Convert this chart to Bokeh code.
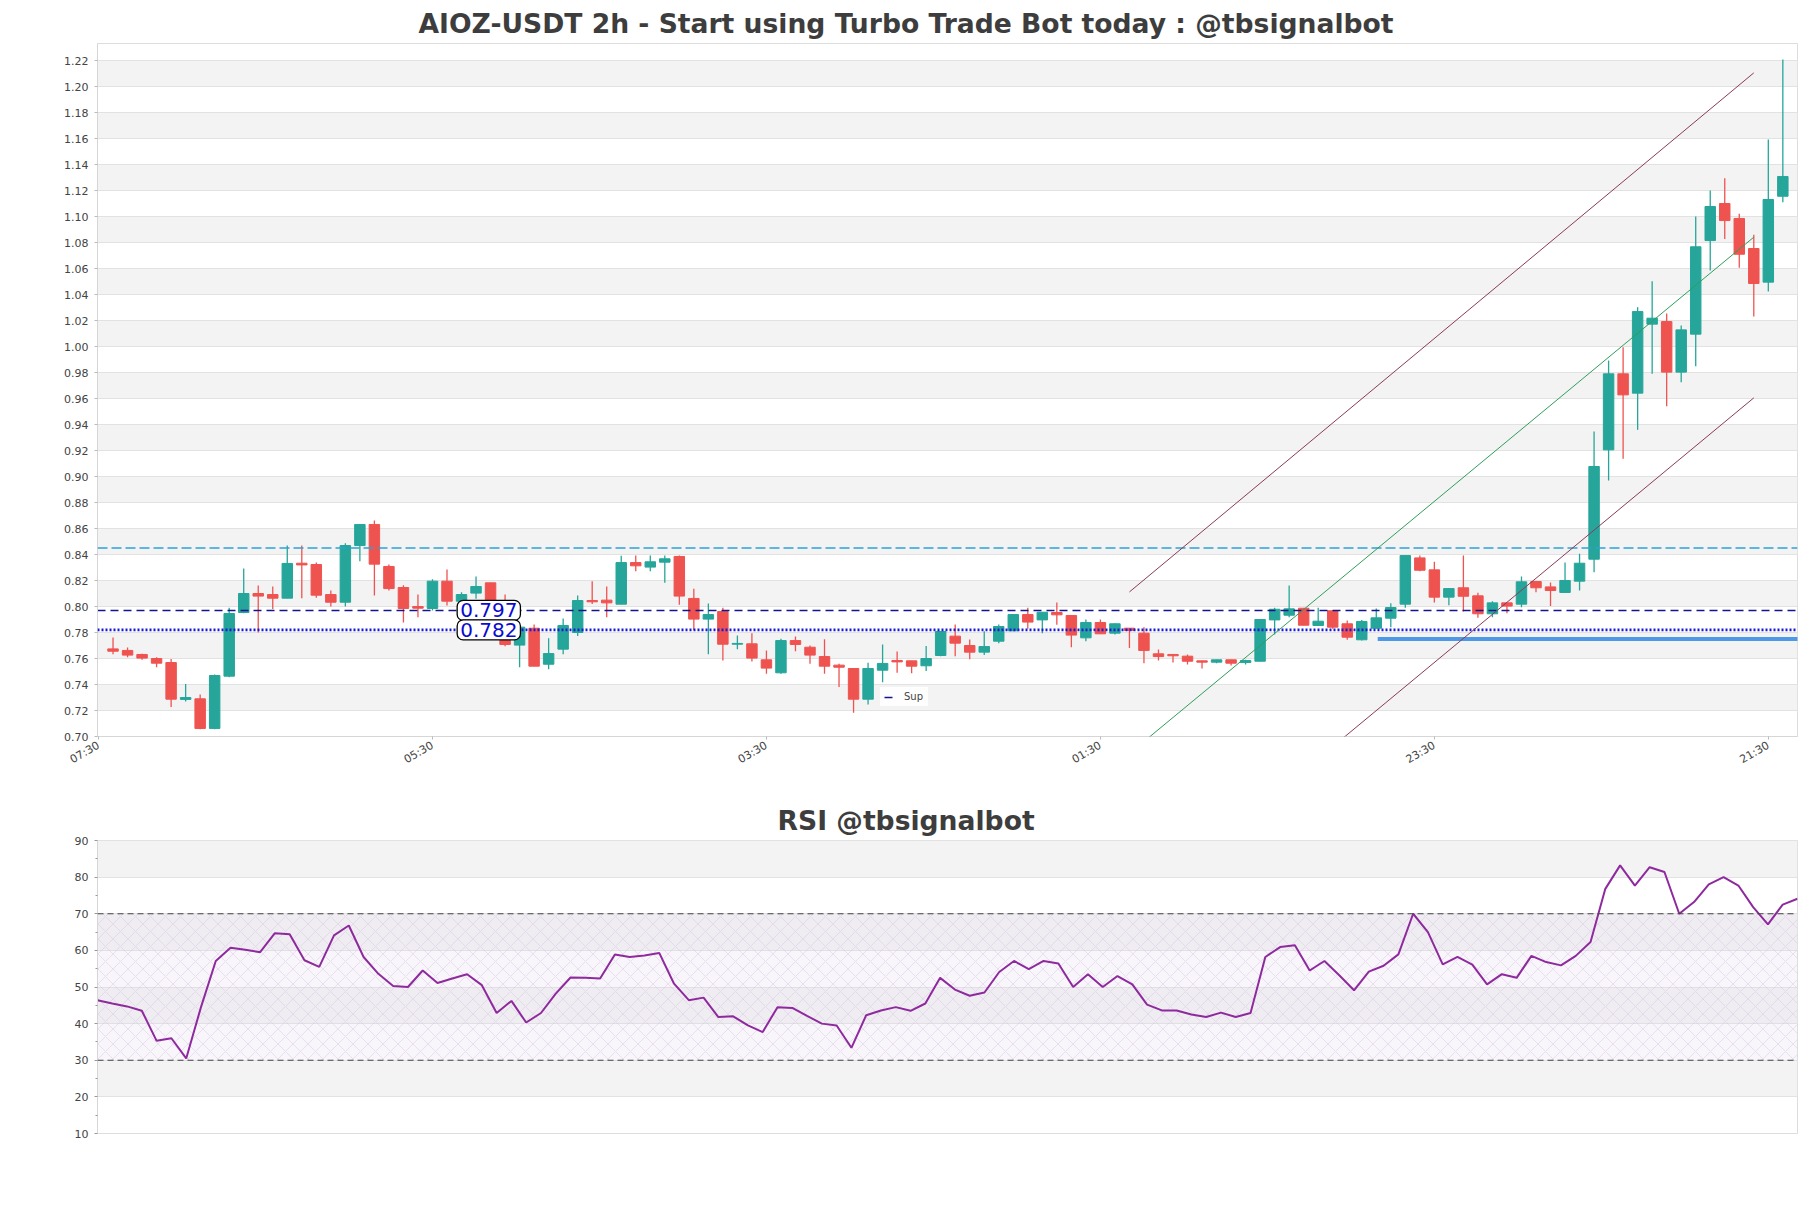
import numpy as np
from bokeh.plotting import figure
from bokeh.models import (ColumnDataSource, Range1d, FixedTicker, Span, Label,
                          Legend, LegendItem, BoxAnnotation, Arrow, PrintfTickFormatter)
from bokeh.layouts import column
from bokeh.embed import file_html
from bokeh.resources import INLINE

# ---------------- data ----------------
opens = [0.7674, 0.7662, 0.7631, 0.7600, 0.7569, 0.7285, 0.7290, 0.7062, 0.7464, 0.7954,
         0.8100, 0.8092, 0.8064, 0.8333, 0.8323, 0.8092, 0.8033, 0.8469, 0.8631, 0.8308,
         0.8146, 0.8000, 0.7985, 0.8195, 0.8041, 0.8103, 0.8182, 0.7985, 0.7703, 0.7833,
         0.7556, 0.7672, 0.7800, 0.8046, 0.8049, 0.8018, 0.8338, 0.8303, 0.8341, 0.8385,
         0.8062, 0.7903, 0.7962, 0.7710, 0.7713, 0.7590, 0.7490, 0.7738, 0.7687, 0.7615,
         0.7549, 0.7523, 0.7287, 0.7510, 0.7585, 0.7582, 0.7544, 0.7623, 0.7772, 0.7700,
         0.7649, 0.7733, 0.7813, 0.7938, 0.7897, 0.7954, 0.7931, 0.7759, 0.7877, 0.7795,
         0.7833, 0.7795, 0.7636, 0.7631, 0.7618, 0.7582, 0.7572, 0.7590, 0.7569, 0.7579,
         0.7897, 0.7933, 0.7987, 0.7854, 0.7967, 0.7867, 0.7744, 0.7833, 0.7910, 0.8018,
         0.8374, 0.8282, 0.8072, 0.8144, 0.8082, 0.7944, 0.8028, 0.8018, 0.8192, 0.8151,
         0.8108, 0.8195, 0.8364, 0.9205, 0.9790, 0.9641, 1.0172, 1.0192, 0.9803, 1.0095,
         1.0815, 1.1100, 1.0985, 1.0754, 1.0495, 1.1156]
highs = [0.7762, 0.7685, 0.7636, 0.7610, 0.7597, 0.7403, 0.7323, 0.7477, 0.7990, 0.8292,
         0.8162, 0.8154, 0.8469, 0.8469, 0.8338, 0.8123, 0.8487, 0.8631, 0.8662, 0.8323,
         0.8164, 0.8092, 0.8210, 0.8285, 0.8110, 0.8230, 0.8182, 0.8092, 0.7841, 0.7862,
         0.7756, 0.7908, 0.8085, 0.8195, 0.8154, 0.8390, 0.8392, 0.8392, 0.8392, 0.8392,
         0.8136, 0.8023, 0.7990, 0.7777, 0.7795, 0.7662, 0.7751, 0.7769, 0.7700, 0.7749,
         0.7559, 0.7523, 0.7567, 0.7708, 0.7654, 0.7582, 0.7697, 0.7808, 0.7862, 0.7746,
         0.7810, 0.7862, 0.7938, 0.7990, 0.7956, 0.8031, 0.7931, 0.7900, 0.7900, 0.7872,
         0.7833, 0.7841, 0.7669, 0.7631, 0.7631, 0.7582, 0.7590, 0.7590, 0.7590, 0.7900,
         0.7990, 0.8162, 0.7987, 0.7990, 0.7967, 0.7892, 0.7897, 0.7985, 0.8026, 0.8392,
         0.8392, 0.8344, 0.8138, 0.8392, 0.8105, 0.8041, 0.8028, 0.8231, 0.8192, 0.8185,
         0.8338, 0.8405, 0.9346, 0.9892, 0.9995, 1.0303, 1.0503, 1.0254, 1.0162, 1.1000,
         1.1200, 1.1295, 1.1021, 1.0859, 1.1592, 1.2208]
lows = [0.7633, 0.7610, 0.7590, 0.7533, 0.7226, 0.7270, 0.7056, 0.7056, 0.7456, 0.7949,
        0.7800, 0.7980, 0.8064, 0.8064, 0.8067, 0.8000, 0.8000, 0.8349, 0.8085, 0.8123,
        0.7877, 0.7918, 0.7970, 0.8008, 0.8010, 0.8060, 0.7970, 0.7695, 0.7533, 0.7541,
        0.7518, 0.7633, 0.7774, 0.8020, 0.7918, 0.8018, 0.8272, 0.8272, 0.8182, 0.8013,
        0.7820, 0.7633, 0.7585, 0.7672, 0.7577, 0.7482, 0.7482, 0.7656, 0.7559, 0.7482,
        0.7380, 0.7182, 0.7246, 0.7418, 0.7490, 0.7487, 0.7503, 0.7618, 0.7618, 0.7595,
        0.7626, 0.7718, 0.7810, 0.7828, 0.7795, 0.7859, 0.7687, 0.7733, 0.7790, 0.7785,
        0.7680, 0.7564, 0.7585, 0.7569, 0.7554, 0.7523, 0.7564, 0.7546, 0.7554, 0.7579,
        0.7785, 0.7918, 0.7856, 0.7850, 0.7828, 0.7744, 0.7738, 0.7828, 0.7841, 0.7990,
        0.8272, 0.8031, 0.8010, 0.7962, 0.7913, 0.7918, 0.7949, 0.7995, 0.8110, 0.8003,
        0.8108, 0.8123, 0.8264, 0.8969, 0.9136, 0.9359, 0.9790, 0.9541, 0.9726, 0.9849,
        1.0585, 1.0828, 1.0605, 1.0231, 1.0423, 1.1110]
closes = [0.7656, 0.7626, 0.7603, 0.7564, 0.7287, 0.7300, 0.7062, 0.7469, 0.7946, 0.8100,
          0.8080, 0.8064, 0.8331, 0.8320, 0.8087, 0.8033, 0.8469, 0.8631, 0.8326, 0.8138,
          0.7985, 0.7987, 0.8195, 0.8041, 0.8092, 0.8154, 0.8000, 0.7708, 0.7841, 0.7541,
          0.7638, 0.7854, 0.8046, 0.8036, 0.8028, 0.8338, 0.8313, 0.8344, 0.8367, 0.8080,
          0.7903, 0.7938, 0.7710, 0.7716, 0.7603, 0.7526, 0.7738, 0.7708, 0.7626, 0.7541,
          0.7533, 0.7287, 0.7523, 0.7562, 0.7574, 0.7541, 0.7600, 0.7808, 0.7718, 0.7649,
          0.7692, 0.7846, 0.7938, 0.7880, 0.7956, 0.7936, 0.7780, 0.7877, 0.7790, 0.7867,
          0.7815, 0.7662, 0.7615, 0.7621, 0.7579, 0.7572, 0.7590, 0.7564, 0.7585, 0.7900,
          0.7979, 0.7982, 0.7856, 0.7887, 0.7841, 0.7764, 0.7885, 0.7913, 0.7992, 0.8392,
          0.8279, 0.8072, 0.8138, 0.8079, 0.7944, 0.8028, 0.8003, 0.8190, 0.8144, 0.8123,
          0.8200, 0.8333, 0.9077, 0.9790, 0.9628, 1.0269, 1.0218, 0.9803, 1.0128, 1.0767,
          1.1077, 1.0969, 1.0710, 1.0485, 1.1131, 1.1308]
rsi = [46.4, 45.5, 44.7, 43.5, 35.3, 36.0, 30.5, 44.5, 57.1, 60.7,
       60.2, 59.5, 64.7, 64.4, 57.3, 55.5, 64.1, 66.8, 58.2, 53.6,
       50.3, 50.0, 54.5, 51.1, 52.3, 53.5, 50.5, 42.9, 46.2, 40.3,
       42.9, 48.2, 52.6, 52.5, 52.3, 58.9, 58.2, 58.6, 59.3, 50.9,
       46.4, 47.1, 41.8, 42.0, 39.5, 37.7, 44.5, 44.3, 42.1, 40.0,
       39.5, 33.4, 42.3, 43.6, 44.5, 43.5, 45.5, 52.5, 49.3, 47.6,
       48.5, 54.1, 57.1, 54.9, 57.1, 56.4, 50.0, 53.5, 50.0, 53.0,
       50.7, 45.2, 43.6, 43.6, 42.5, 41.8, 43.0, 41.8, 42.9, 58.2,
       60.9, 61.4, 54.5, 57.1, 53.2, 49.1, 54.2, 55.8, 58.9, 70.0,
       65.0, 56.2, 58.2, 56.1, 50.7, 53.5, 52.5, 58.5, 56.8, 55.9,
       58.5, 62.3, 76.8, 83.2, 77.7, 82.7, 81.4, 70.0, 73.2, 78.0,
       80.0, 77.7, 71.8, 67.1, 72.5, 74.1]
idx = list(range(len(opens)))

x_tick_pos = [-1, 22, 45, 68, 91, 114]
x_tick_labels = ["07:30", "05:30", "03:30", "01:30", "23:30", "21:30"]
y_ticks = [0.70, 0.72, 0.74, 0.76, 0.78, 0.80, 0.82, 0.84, 0.86, 0.88, 0.90, 0.92, 0.94,
           0.96, 0.98, 1.00, 1.02, 1.04, 1.06, 1.08, 1.10, 1.12, 1.14, 1.16, 1.18, 1.20, 1.22]
rsi_ticks = [10, 20, 30, 40, 50, 60, 70, 80, 90]
rsi_minor = [15, 25, 35, 45, 55, 65, 75, 85]
rsi_levels = [30, 70]

sup_level = [0.797]
sup2_level = [0.782]
res_level = [0.845]
zone_level = [0.775]
zone_x = [87.1, 116.7]
chan_x = [70.0, 113.0]
chan_upper = [0.8112, 1.2105]
chan_mid = [0.6869, 1.0841]
chan_low_x = [79.3, 113.0]
chan_lower = [0.6487, 0.9605]

UP, DOWN = "#26a69a", "#ef5350"
FONT = "DejaVu Sans"

colors = [UP if c >= o else DOWN for o, c in zip(opens, closes)]
src = ColumnDataSource(dict(
    x=idx, o=opens, h=highs, l=lows, c=closes, color=colors,
    top=[max(o, c) for o, c in zip(opens, closes)],
    bot=[min(o, c) for o, c in zip(opens, closes)],
))

# ---------------- main chart ----------------
p1 = figure(width=1811, height=796, output_backend="svg", toolbar_location=None,
            x_range=Range1d(-1.07, 116.01), y_range=Range1d(0.70, 1.2331),
            min_border_left=97, min_border_right=14, min_border_top=43,
            min_border_bottom=60)
p1.title.text = "AIOZ-USDT 2h - Start using Turbo Trade Bot today : @tbsignalbot"
p1.title.align = "left"
p1.title.offset = 321
p1.title.text_font = FONT
p1.title.text_font_size = "26.6px"
p1.title.text_font_style = "bold"
p1.title.text_color = "#3d3d3d"
p1.outline_line_color = "#dddddd"
p1.background_fill_color = "white"

p1.ygrid.ticker = FixedTicker(ticks=y_ticks)
p1.yaxis.ticker = FixedTicker(ticks=y_ticks)
p1.yaxis.formatter = PrintfTickFormatter(format="%.2f")
p1.ygrid.grid_line_color = "#e2e2e2"
p1.ygrid.band_fill_color = "#f3f3f3"
p1.ygrid.band_fill_alpha = 1.0
p1.xgrid.grid_line_color = None

p1.xaxis.ticker = FixedTicker(ticks=x_tick_pos)
p1.xaxis.major_label_overrides = {t: s for t, s in zip(x_tick_pos, x_tick_labels)}
p1.xaxis.major_label_orientation = np.pi / 6
for ax in (p1.xaxis[0], p1.yaxis[0]):
    ax.axis_line_color = "#d6d6d6"
    ax.major_tick_line_color = "#bbbbbb"
    ax.major_tick_out = 3
    ax.major_tick_in = 0
    ax.minor_tick_line_color = None
    ax.major_label_text_font = FONT
    ax.major_label_text_font_size = "11px"
    ax.major_label_text_color = "#444444"
p1.yaxis.major_label_standoff = 6

p1.segment(x0="x", y0="l", x1="x", y1="h", color="color", line_width=1.3, source=src)
p1.vbar(x="x", width=0.72, top="top", bottom="bot", fill_color="color",
        line_color="color", line_width=1, source=src)

# levels
p1.add_layout(Span(location=res_level[0], dimension="width", line_color="#2ba3d6",
                   line_dash="10 4", line_width=1.4))
sup_r = p1.hspan(y=sup_level, line_color="#14148c", line_dash="8 5", line_width=1.5)
p1.add_layout(Span(location=sup2_level[0], dimension="width", line_color="#1a1ad6",
                   line_dash="2 2", line_width=2.6))
p1.segment(x0=[zone_x[0]], y0=zone_level, x1=[zone_x[1]], y1=zone_level,
           line_color="#3b8fe3", line_width=4, line_alpha=0.9)

# channel
for xs, ys, col in ((chan_x, chan_upper, "#8a3a58"), (chan_x, chan_mid, "#2e9e5a"),
                    (chan_low_x, chan_lower, "#8a3a58")):
    p1.add_layout(Arrow(end=None, x_start=xs[0], y_start=ys[0], x_end=xs[1], y_end=ys[1],
                        line_color=col, line_width=1))

for lv in (sup_level[0], sup2_level[0]):
    p1.add_layout(Label(x=23.7, y=lv, text=f"{lv:.3f}", text_color="#0a0ad0",
                        text_font=FONT, text_font_size="20px", text_baseline="middle",
                        background_fill_color="white", border_line_color="black",
                        border_line_width=1.3, padding=3, border_radius=6))

legend = Legend(items=[LegendItem(label="Sup", renderers=[sup_r])], location=(783, 30))
legend.label_text_font = FONT
legend.label_text_font_size = "10px"
legend.glyph_width = 12
legend.glyph_height = 10
legend.padding = 4
legend.margin = 0
legend.label_standoff = 8
legend.border_line_alpha = 0
legend.background_fill_alpha = 0.9
p1.add_layout(legend)

# ---------------- RSI ----------------
p2 = figure(width=1811, height=412, output_backend="svg", toolbar_location=None,
            x_range=Range1d(0, len(rsi) - 1), y_range=Range1d(10, 90),
            min_border_left=97, min_border_right=14, min_border_top=44,
            min_border_bottom=75)
p2.title.text = "RSI @tbsignalbot"
p2.title.align = "left"
p2.title.offset = 680
p2.title.text_font = FONT
p2.title.text_font_size = "26.6px"
p2.title.text_font_style = "bold"
p2.title.text_color = "#3d3d3d"
p2.outline_line_color = "#dddddd"
p2.xaxis.visible = False
p2.xgrid.grid_line_color = None
p2.ygrid.ticker = FixedTicker(ticks=rsi_ticks)
p2.yaxis.ticker = FixedTicker(ticks=rsi_ticks, minor_ticks=rsi_minor)
p2.ygrid.grid_line_color = "#e2e2e2"
p2.ygrid.band_fill_color = "#f3f3f3"
p2.ygrid.band_fill_alpha = 1.0
ax = p2.yaxis[0]
ax.axis_line_color = "#d6d6d6"
ax.major_tick_line_color = "#999999"
ax.minor_tick_line_color = "#999999"
ax.major_tick_out = 3
ax.major_tick_in = 0
ax.minor_tick_out = 2
ax.minor_tick_in = 0
ax.major_label_text_font = FONT
ax.major_label_text_font_size = "11px"
ax.major_label_text_color = "#444444"
ax.major_label_standoff = 6

p2.add_layout(BoxAnnotation(bottom=rsi_levels[0], top=rsi_levels[1], fill_color="#e9dcf0",
                            fill_alpha=0.25, hatch_pattern="x", hatch_color="#cdb8da",
                            hatch_alpha=0.6, hatch_scale=15, hatch_weight=0.6,
                            line_color=None, level="underlay"))
for lv in rsi_levels:
    p2.add_layout(Span(location=lv, dimension="width", line_color="#444444",
                       line_dash="6 4", line_width=1.2))
p2.line(x=idx, y=rsi, line_color="#8e2a9e", line_width=2)

layout = column(p1, p2, spacing=0)
open("out.html", "w").write(file_html(layout, INLINE))
